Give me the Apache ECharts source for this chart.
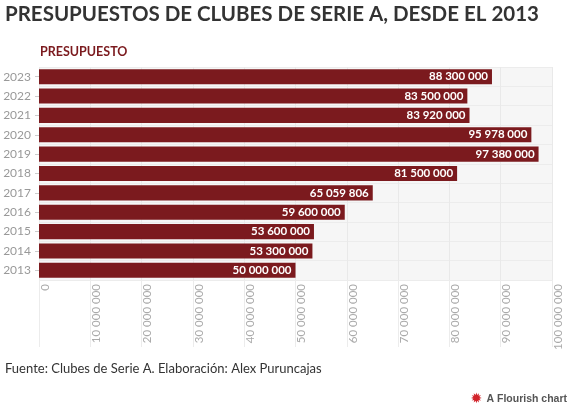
<!DOCTYPE html>
<html><head><meta charset="utf-8">
<script src="https://cdn.jsdelivr.net/npm/echarts@6/dist/echarts.min.js"></script>
<style>html,body{margin:0;padding:0;background:#fff}#c{width:580px;height:411px}</style>
</head><body><div id="c"></div>
<script>
const years = ['2013','2014','2015','2016','2017','2018','2019','2020','2021','2022','2023'];
const budgets = [50000000, 53300000, 53600000, 59600000, 65059806, 81500000, 97380000, 95978000, 83920000, 83500000, 88300000];
const xTicks = [0,10000000,20000000,30000000,40000000,50000000,60000000,70000000,80000000,90000000,100000000];
const titleText = 'PRESUPUESTOS DE CLUBES DE SERIE A, DESDE EL 2013';
const axisTitle = 'PRESUPUESTO';
const sourceText = 'Fuente: Clubes de Serie A. Elaboración: Alex Puruncajas';

const fmt = v => String(Math.round(v)).replace(/\B(?=(\d{3})+(?!\d))/g, ' ');
const chart = echarts.init(document.getElementById('c'));
const FONT = 'Lato, "Noto Sans", sans-serif';
chart.setOption({
  animation: false,
  textStyle: {fontFamily: FONT},
  title: [
    {text: titleText, left: 5, top: 4, padding: 0, textStyle: {fontFamily: FONT, fontWeight: 'bold', fontSize: 20.5, color: '#333'}},
    {text: axisTitle, left: 40, top: 45, padding: 0, textStyle: {fontFamily: FONT, fontWeight: 'bold', fontSize: 12.5, color: '#7b1a1e'}},
    {text: sourceText, left: 5, top: 362, padding: 0, textStyle: {fontFamily: FONT, fontWeight: 'normal', fontSize: 13, color: '#333'}},
    {text: '{i|✹} {t|A Flourish chart}', right: 13, top: 390, padding: 0, textStyle: {rich: {
      i: {color: '#d2232a', fontSize: 14, fontFamily: 'DejaVu Sans'},
      t: {color: '#555', fontSize: 10.5, fontWeight: 'bold', fontFamily: 'Liberation Sans, Arial, sans-serif'}
    }}}
  ],
  grid: {left: 39, right: 28, top: 67, bottom: 131, show: true, backgroundColor: '#f6f6f6', borderWidth: 0},
  xAxis: {
    type: 'value', min: 0, max: 100000000, interval: 10000000,
    axisLine: {show: false},
    axisTick: {show: true, length: 67, lineStyle: {color: '#ececec'}},
    splitLine: {show: true, lineStyle: {color: '#e9e9e9'}},
    axisLabel: {rotate: 90, color: '#aaa', fontSize: 11.5, margin: 4, verticalAlign: 'top',
      formatter: v => xTicks.includes(v) ? fmt(v) : ''}
  },
  yAxis: {
    type: 'category', data: years,
    axisLine: {show: false},
    axisTick: {show: true, length: 4, alignWithLabel: true, lineStyle: {color: '#ccc'}},
    splitLine: {show: true, interval: 0, lineStyle: {color: '#ececec'}},
    axisLabel: {color: '#999', fontSize: 12, margin: 8}
  },
  series: [{
    type: 'bar', data: budgets, barCategoryGap: '22%',
    itemStyle: {color: '#7b1a1e'},
    label: {show: true, position: 'insideRight', formatter: p => fmt(p.value), color: '#fff', fontWeight: 'bold', fontSize: 11.5, fontFamily: FONT, offset: [1,0]}
  }]
});
</script></body></html>
